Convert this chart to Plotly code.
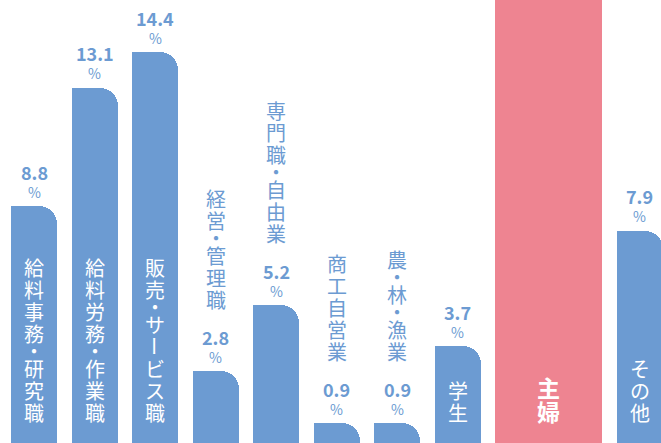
import plotly.graph_objects as go

# ---- data ----
categories = ["給料事務・研究職", "給料労務・作業職", "販売・サービス職", "経営・管理職",
              "専門職・自由業", "商工自営業", "農・林・漁業", "学生", "主婦", "その他"]
values = [8.8, 13.1, 14.4, 2.8, 5.2, 0.9, 0.9, 3.7, 42.3, 7.9]
value_labels = ["8.8", "13.1", "14.4", "2.8", "5.2", "0.9", "0.9", "3.7", "42.3", "7.9"]
label_inside = [True, True, True, False, False, False, False, True, True, True]
highlight = [False] * 8 + [True, False]
slot_pos = [0, 1, 2, 3, 4, 5, 6, 7, 8.5, 10]
slot_span = [1, 1, 1, 1, 1, 1, 1, 1, 2, 1]

# ---- style / layout ----
W, H = 661, 443
BLUE = "#6C9BD2"
PINK = "#EE8491"
PITCH = 60.55
X0 = 34
BAR_W = 46
PX_PER_UNIT = 27.5
BASE_PX = 448  # pixel row of y=0 (below the visible area)
INSIDE_BOTTOM_PX = 423

JP = "Noto Sans CJK JP"

xs = [X0 + PITCH * s for s in slot_pos]
widths = [BAR_W + (sp - 1) * PITCH for sp in slot_span]
colors = [PINK if h else BLUE for h in highlight]

fig = go.Figure()
fig.add_trace(go.Bar(x=xs, y=values, width=widths,
                     marker=dict(color=colors, cornerradius=18, line=dict(width=0)),
                     hoverinfo="skip"))
# square off the top-left corner
fig.add_trace(go.Bar(x=[x - w / 4 for x, w in zip(xs, widths)], y=values,
                     width=[w / 2 for w in widths],
                     marker=dict(color=colors, line=dict(width=0)),
                     hoverinfo="skip"))

ymin = (BASE_PX - H) / PX_PER_UNIT
ymax = BASE_PX / PX_PER_UNIT
inside_y = (BASE_PX - INSIDE_BOTTOM_PX) / PX_PER_UNIT

annotations = []


def vertical_text(text, x, y, bottom_shift, color, size, pitch, bold=False):
    """Stack characters vertically, bottom of the stack at y + bottom_shift px."""
    off = bottom_shift
    for ch in reversed(text):
        adv = 13 if ch == "・" else pitch
        annotations.append(dict(
            x=x, y=y, xref="x", yref="y", text=f"<b>{ch}</b>" if bold else ch,
            showarrow=False, xanchor="center", yanchor="middle",
            yshift=off + adv / 2, textangle=90 if ch == "ー" else 0,
            font=dict(family=JP, size=size, color=color)))
        off += adv


for cat, v, lab, inside, x, hl in zip(categories, values, value_labels,
                                      label_inside, xs, highlight):
    if inside:
        if hl:
            vertical_text(cat, x, inside_y, 0, "white", 23, 24, bold=True)
        else:
            vertical_text(cat, x, inside_y, 0, "white", 20, 22)
    else:
        vertical_text(cat, x, v, 61, BLUE, 20, 22)
    if v < ymax:
        annotations.append(dict(x=x, y=v, xref="x", yref="y", text=f"<b>{lab}</b>",
                                showarrow=False, xanchor="center", yanchor="middle",
                                yshift=34.5,
                                font=dict(family=JP, size=18, color=BLUE)))
        annotations.append(dict(x=x, y=v, xref="x", yref="y", text="%",
                                showarrow=False, xanchor="center", yanchor="middle",
                                yshift=14.5,
                                font=dict(family=JP, size=14, color=BLUE)))

fig.update_layout(
    width=W, height=H, margin=dict(l=0, r=0, t=0, b=0),
    paper_bgcolor="white", plot_bgcolor="white",
    barmode="overlay", bargap=0, showlegend=False,
    xaxis=dict(range=[0, W], visible=False, fixedrange=True),
    yaxis=dict(range=[ymin, ymax], visible=False, fixedrange=True),
    annotations=annotations,
)

fig.write_html("out.html", config={"displayModeBar": False},
               post_script="document.body.style.margin='0';document.body.style.overflow='hidden';")
